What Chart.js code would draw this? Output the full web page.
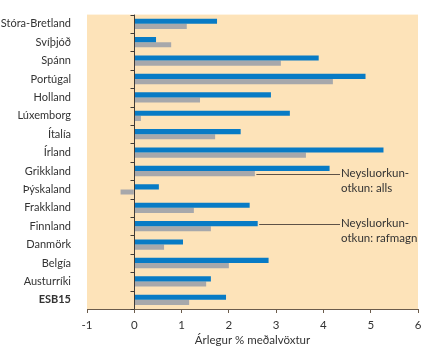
<!DOCTYPE html>
<html>
<head>
<meta charset="utf-8">
<script src="https://cdn.jsdelivr.net/npm/chart.js@4/dist/chart.umd.min.js"></script>
<style>
  html, body { margin: 0; padding: 0; background: #ffffff; }
  canvas { display: block; }
</style>
</head>
<body>
<canvas id="chart" width="421" height="347"></canvas>
<script>
// Countries (EU15 members and the EU15 average)
const categories = [
  'Stóra-Bretland', 'Svíþjóð', 'Spánn', 'Portúgal', 'Holland', 'Lúxemborg',
  'Ítalía', 'Írland', 'Grikkland', 'Þýskaland', 'Frakkland', 'Finnland',
  'Danmörk', 'Belgía', 'Austurríki', 'ESB15'
];

// Average annual growth, % — final consumption of electricity
const electricityGrowth = [
  1.75, 0.46, 3.90, 4.89, 2.89, 3.29, 2.25, 5.27,
  4.13, 0.52, 2.44, 2.61, 1.03, 2.84, 1.62, 1.94
];

// Average annual growth, % — total final energy consumption
const totalGrowth = [
  1.11, 0.78, 3.10, 4.20, 1.39, 0.14, 1.71, 3.63,
  2.55, -0.29, 1.26, 1.62, 0.63, 2.00, 1.52, 1.16
];

const xTickValues = [-1, 0, 1, 2, 3, 4, 5, 6];

// Callout labels: which series/category each one points at
const callouts = [
  { lines: ['Neysluorkun-', 'otkun: alls'], dataset: 1, index: 8 },
  { lines: ['Neysluorkun-', 'otkun: rafmagn'], dataset: 0, index: 11 }
];

const FONT = 'Lato, "Open Sans", "DejaVu Sans", sans-serif';
const TEXT = '#333333';
const AXIS = '#6b5c4c';
const PANEL = '#fde3b9';

const panelBackground = {
  id: 'panelBackground',
  beforeDraw(chart) {
    const { ctx, chartArea: a } = chart;
    ctx.save();
    ctx.fillStyle = PANEL;
    ctx.fillRect(a.left, a.top, a.right - a.left, a.bottom - a.top);
    ctx.restore();
  }
};

// Vertical axis drawn at x = 0 with short ticks between the categories
const zeroAxis = {
  id: 'zeroAxis',
  afterDatasetsDraw(chart) {
    const { ctx, scales: { x, y } } = chart;
    const px = Math.round(x.getPixelForValue(0)) + 0.5;
    ctx.save();
    ctx.strokeStyle = '#3f3a36';
    ctx.lineWidth = 1;
    ctx.beginPath();
    ctx.moveTo(px, chart.chartArea.top);
    ctx.lineTo(px, chart.chartArea.bottom);
    for (let i = 0; i <= categories.length; i++) {
      const py = Math.round(y.getPixelForValue(i - 0.5)) + 0.5;
      ctx.moveTo(px - 4, py);
      ctx.lineTo(px, py);
    }
    ctx.stroke();
    ctx.restore();
  }
};

const calloutLabels = {
  id: 'calloutLabels',
  afterDatasetsDraw(chart) {
    const { ctx, scales: { x } } = chart;
    const textX = 341;
    ctx.save();
    ctx.font = '11.5px ' + FONT;
    ctx.fillStyle = TEXT;
    ctx.textBaseline = 'middle';
    ctx.textAlign = 'left';
    callouts.forEach(c => {
      const bar = chart.getDatasetMeta(c.dataset).data[c.index];
      const values = c.dataset === 0 ? electricityGrowth : totalGrowth;
      const startX = x.getPixelForValue(values[c.index]) + 1.5;
      const py = Math.round(bar.y) + 0.5;
      ctx.strokeStyle = '#5e5247';
      ctx.lineWidth = 1;
      ctx.beginPath();
      ctx.moveTo(startX, py);
      ctx.lineTo(textX - 1, py);
      ctx.stroke();
      c.lines.forEach((t, k) => ctx.fillText(t, textX, bar.y + k * 14.5));
    });
    ctx.restore();
  }
};

new Chart(document.getElementById('chart'), {
  type: 'bar',
  data: {
    labels: categories,
    datasets: [
      {
        label: 'Neysluorkunotkun: rafmagn',
        data: electricityGrowth,
        backgroundColor: '#087bc5',
        barPercentage: 1,
        categoryPercentage: 0.56
      },
      {
        label: 'Neysluorkunotkun: alls',
        data: totalGrowth,
        backgroundColor: '#a7a8ab',
        barPercentage: 1,
        categoryPercentage: 0.56
      }
    ]
  },
  options: {
    indexAxis: 'y',
    responsive: false,
    animation: false,
    events: [],
    layout: { padding: { top: 8, right: 3, left: 0, bottom: 0 } },
    plugins: {
      legend: { display: false },
      tooltip: { enabled: false }
    },
    scales: {
      x: {
        min: -1,
        max: 6,
        afterBuildTicks(scale) {
          scale.ticks = xTickValues.map(v => ({ value: v }));
        },
        afterFit(scale) {
          scale.height = 38;
          // end labels may overhang the plot edges
          scale.paddingLeft = 0;
          scale.paddingRight = 0;
        },
        grid: {
          drawOnChartArea: false,
          drawTicks: true,
          tickLength: 4,
          color: AXIS
        },
        border: { display: true, color: AXIS, width: 1 },
        ticks: {
          font: { family: FONT, size: 11.5 },
          color: TEXT,
          padding: 5
        },
        title: {
          display: true,
          text: 'Árlegur % meðalvöxtur',
          font: { family: FONT, size: 11.5 },
          color: TEXT,
          padding: { top: 0, bottom: 0 }
        }
      },
      y: {
        afterFit(scale) { scale.width = 87; },
        grid: { display: false },
        border: { display: false },
        ticks: {
          autoSkip: false,
          padding: 8,
          color: TEXT,
          font: ctx => ({
            family: FONT,
            size: 11,
            weight: categories[ctx.index] === 'ESB15' ? 'bold' : 'normal'
          })
        }
      }
    }
  },
  plugins: [panelBackground, zeroAxis, calloutLabels]
});
</script>
</body>
</html>
